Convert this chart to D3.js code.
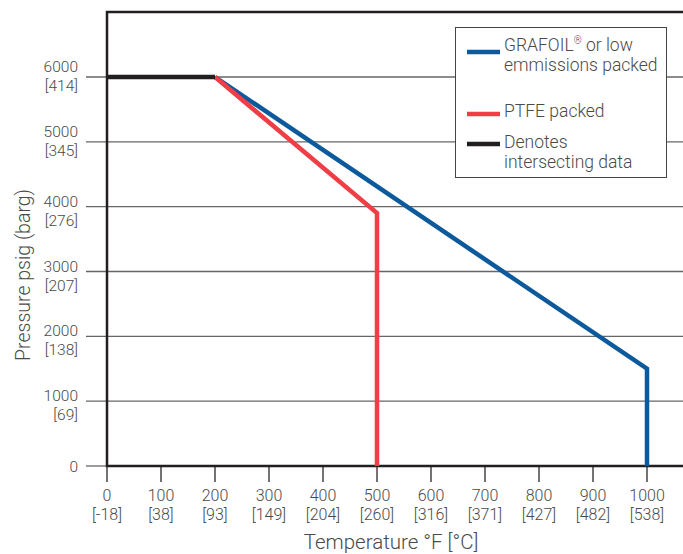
<!DOCTYPE html>
<html lang="en">
<head>
  <meta charset="utf-8">
  <script src="https://d3js.org/d3.v7.min.js"></script>
  <style>
    body { margin: 0; background: #fff; }
    text { font-family: Roboto, "Open Sans", sans-serif; font-weight: 300; fill: #4a4a4a; }
  </style>
</head>
<body>
<script>

// data
var xTicks = [0, 100, 200, 300, 400, 500, 600, 700, 800, 900, 1000];
var xTicksC = ["-18", "38", "93", "149", "204", "260", "316", "371", "427", "482", "538"];
var yTicks = [0, 1000, 2000, 3000, 4000, 5000, 6000];
var yTicksBar = ["", "69", "138", "207", "276", "345", "414"];

var grafoil = [[200, 6000], [1000, 1500], [1000, 0]];
var ptfe = [[200, 6000], [500, 3900], [500, 0]];
var common = [[0, 6000], [200, 6000]];

var legendItems = ["GRAFOIL|® or low|emmissions packed", "PTFE packed", "Denotes|intersecting data"];
var legendColors = ["#0c5a9b", "#ef3e46", "#231f20"];

var width = 683,
    height = 554;

var x = d3.scaleLinear().domain([0, 1000]).range([107, 647]);
var y = d3.scaleLinear().domain([0, 6000]).range([466, 77]);

var svg = d3.select("body").append("svg")
    .attr("width", width)
    .attr("height", height);

// gridlines incl. the little tick to the left of the axis
svg.append("g")
  .selectAll("line")
    .data(yTicks)
  .enter().append("line")
    .attr("x1", 86)
    .attr("x2", function(d) { return d > 0 ? width : x(0); })
    .attr("y1", function(d) { return y(d); })
    .attr("y2", function(d) { return y(d); })
    .attr("stroke", "#666")
    .attr("stroke-width", 1.3);

// x ticks
svg.append("g")
  .selectAll("line")
    .data(xTicks)
  .enter().append("line")
    .attr("x1", function(d) { return x(d); })
    .attr("x2", function(d) { return x(d); })
    .attr("y1", y(0)).attr("y2", y(0) + 16)
    .attr("stroke", "#444").attr("stroke-width", 1.5);

// frame: top, left, bottom (right side runs off the page)
svg.append("path")
    .attr("d", "M" + width + "," + 12 + "H" + x(0) + "V" + y(0) + "H" + width)
    .attr("fill", "none")
    .attr("stroke", "#231f20")
    .attr("stroke-width", 2.5);

// series
var line = d3.line()
    .x(function(d) { return x(d[0]); })
    .y(function(d) { return y(d[1]); });

function drawSeries(data, color) {
  svg.append("path")
      .datum(data)
      .attr("d", line)
      .attr("fill", "none")
      .attr("stroke", color)
      .attr("stroke-width", 4.5);
}
drawSeries(grafoil, legendColors[0]);
drawSeries(ptfe, legendColors[1]);
drawSeries(common, legendColors[2]);

// x tick labels
var xl = svg.append("g").attr("font-size", 16).attr("text-anchor", "middle");
xl.selectAll("text.f")
    .data(xTicks)
  .enter().append("text")
    .attr("x", function(d) { return x(d); })
    .attr("y", 501)
    .text(function(d) { return d; });
xl.selectAll("text.c")
    .data(xTicksC)
  .enter().append("text")
    .attr("x", function(d, i) { return x(xTicks[i]); })
    .attr("y", 520)
    .text(function(d) { return "[" + d + "]"; });

// y tick labels
var yl = svg.append("g").attr("font-size", 15.5).attr("text-anchor", "end");
yl.selectAll("text.f")
    .data(yTicks)
  .enter().append("text")
    .attr("x", 78)
    .attr("y", function(d) {
      if (d === 0) return y(d) + 6;
      return y(d) + (d >= 5000 ? -5 : 0);
    })
    .text(function(d) { return d; });
yl.selectAll("text.c")
    .data(yTicksBar)
  .enter().append("text")
    .attr("x", 78)
    .attr("y", function(d, i) { return y(yTicks[i]) + (yTicks[i] >= 5000 ? 14 : 19); })
    .text(function(d) { return d ? "[" + d + "]" : ""; });

// axis titles
svg.append("text")
    .attr("x", 391).attr("y", 549)
    .attr("text-anchor", "middle")
    .attr("font-size", 20.5)
    .text("Temperature °F [°C]");

svg.append("text")
    .attr("transform", "translate(30,275)rotate(-90)")
    .attr("text-anchor", "middle")
    .attr("font-size", 19.5)
    .text("Pressure psig (barg)");

// legend
var lg = svg.append("g");
lg.append("rect")
    .attr("x", 455.5).attr("y", 27.5)
    .attr("width", 211).attr("height", 150)
    .attr("fill", "#fff")
    .attr("stroke", "#444")
    .attr("stroke-width", 1);

var legendY = [52, 114, 144];
var legendTextY = [51, 117, 148];
legendItems.forEach(function(item, i) {
  lg.append("line")
      .attr("x1", 467).attr("x2", 500)
      .attr("y1", legendY[i]).attr("y2", legendY[i])
      .attr("stroke", legendColors[i])
      .attr("stroke-width", 4.5);
  var parts = item.split("|");
  if (parts.length === 3) {
    var t = lg.append("text")
        .attr("x", 504).attr("y", legendTextY[i])
        .attr("font-size", 17.5);
    t.append("tspan").text(parts[0]);
    t.append("tspan").attr("font-size", 10).attr("dy", -7).text("®");
    t.append("tspan").attr("dy", 7).text(parts[1].slice(1));
    lg.append("text")
        .attr("x", 504).attr("y", legendTextY[i] + 20)
        .attr("font-size", 17.5)
        .text(parts[2]);
  } else {
    parts.forEach(function(s, j) {
      lg.append("text")
          .attr("x", 504)
          .attr("y", legendTextY[i] + j * 20)
          .attr("font-size", 17.5)
          .text(s);
    });
  }
});

</script>
</body>
</html>
